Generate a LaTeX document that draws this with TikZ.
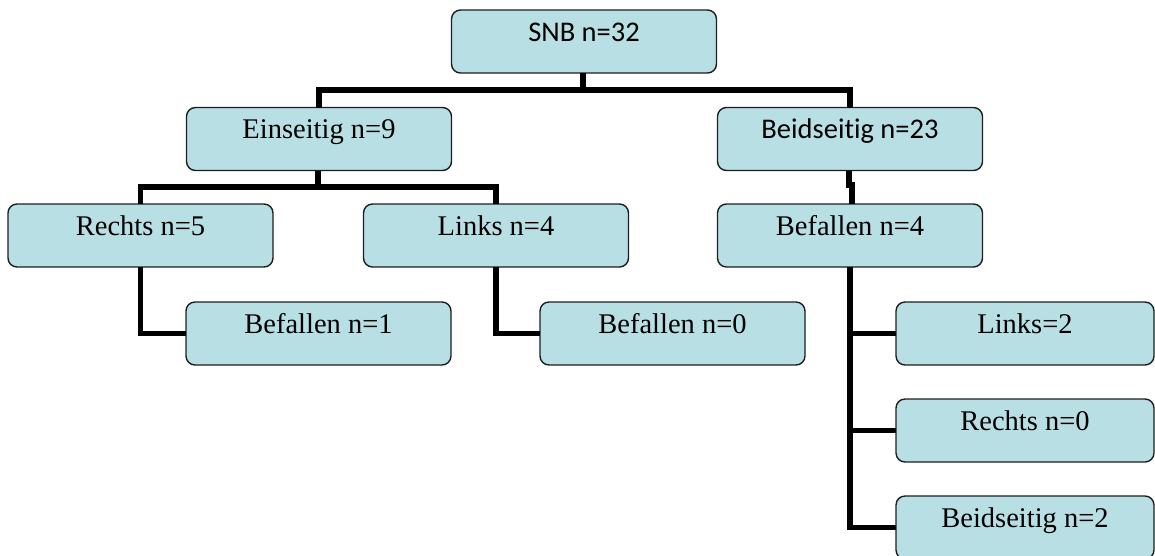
\documentclass[tikz,border=0pt]{standalone}
\usepackage{fontspec}
\setmainfont{Liberation Serif}
\newfontfamily\calib[Ligatures=NoCommon]{Carlito}
\definecolor{boxfill}{RGB}{184,223,227}
\definecolor{boxline}{RGB}{30,30,30}
\tikzset{
  box/.style={draw=boxline, line width=1.4pt, fill=boxfill, rounded corners=9pt,
    minimum width=265pt, inner sep=0pt, outer sep=0pt, text height=31pt, text depth=32pt,
    font=\fontsize{28.5}{31}\selectfont, anchor=center},
  sbox/.style={box, font=\calib\fontsize{28.5}{31}\selectfont},
  conn/.style={line width=5.5pt, line join=miter, line cap=butt, draw=black}
}
\begin{document}
\begin{tikzpicture}[x=1pt, y=-1pt]
\useasboundingbox (0,0) rectangle (1155,555);
% nodes
\node[sbox] (snb) at (584,41.5) {SNB n=32};
\node[box] (ein) at (319,139) {Einseitig n=9};
\node[sbox] (bei) at (850,139) {Beidseitig n=23};
\node[box] (rechts) at (140.5,235.5) {Rechts n=5};
\node[box] (links) at (496,235.5) {Links n=4};
\node[box] (bef4) at (850,235.5) {Befallen n=4};
\node[box] (bef1) at (318.5,333.5) {Befallen n=1};
\node[box] (bef0) at (672.5,333.5) {Befallen n=0};
\node[box, minimum width=258pt] (l2) at (1025,333.5) {Links=2};
\node[box, minimum width=258pt] (r0) at (1025,430.5) {Rechts n=0};
\node[box, minimum width=258pt] (b2) at (1025,527.5) {Beidseitig n=2};
% connectors
\coordinate (j1) at (583,90);
\coordinate (j2) at (318,187);
\coordinate (jb) at (849,185);
\coordinate (jc) at (852,185);
\draw[conn] (snb.south -| j1) -- (j1);
\draw[conn] (ein.north) |- (j1) -| (bei.north);
\draw[conn] (ein.south -| j2) -- (j2);
\draw[conn] (rechts.north) |- (j2) -| (links.north);
\draw[conn] (bei.south -| jb) -- (jb) -- (jc) -- (bef4.north -| jc);
\draw[conn] (rechts.south) |- (bef1.west);
\draw[conn] (links.south) |- (bef0.west);
\draw[conn] (bef4.south) |- (l2.west);
\draw[conn] (bef4.south) |- (r0.west);
\draw[conn] (bef4.south) |- (b2.west);
\end{tikzpicture}
\end{document}
